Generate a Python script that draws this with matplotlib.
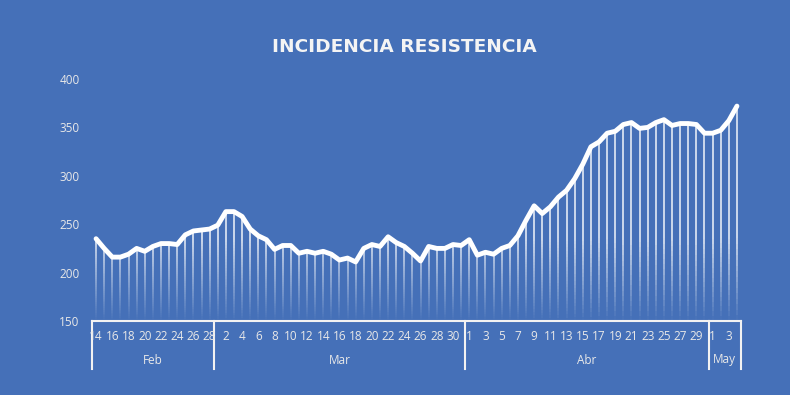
import numpy as np
import pandas as pd
import matplotlib.pyplot as plt
from matplotlib.collections import LineCollection
import matplotlib.transforms as mtransforms

# datos: incidencia diaria 14 feb - 4 may
dates = pd.date_range('2021-02-14', '2021-05-04', freq='D')
month_names = ['Feb', 'Mar', 'Abr', 'May']
values = [235, 225, 216, 216, 219, 225, 222, 227, 230, 230,
          229, 239, 243, 244, 245, 249, 263, 263, 258, 245,
          238, 234, 224, 228, 228, 220, 222, 220, 222, 219,
          213, 215, 211, 225, 229, 227, 237, 231, 227, 220,
          212, 227, 225, 225, 229, 228, 234, 218, 221, 219,
          225, 228, 238, 254, 269, 261, 268, 278, 285, 297,
          312, 330, 335, 344, 346, 353, 355, 349, 350, 355,
          358, 352, 354, 354, 353, 344, 344, 347, 357, 372]
yticks = [150, 200, 250, 300, 350, 400]

bg = '#4570B8'
txt = '#E8E8E8'
W, H = 790, 395

fig = plt.figure(figsize=(W / 100, H / 100), dpi=100, facecolor=bg)
ax = fig.add_axes([92 / W, (H - 321) / H, (741 - 92) / W, (321 - 79) / H])
ax.set_facecolor(bg)

x = np.arange(len(values))
ax.set_xlim(-0.5, len(values) - 0.5)
ax.set_ylim(150, 400)

# lineas verticales con degradado
segs, cols = [], []
for xi, v in zip(x, values):
    ys = np.linspace(150, v, 40)
    for y0, y1 in zip(ys[:-1], ys[1:]):
        a = min(max(((y0 + y1) / 2 - 150) / 85, 0), 1) * 0.85
        segs.append([(xi, y0), (xi, y1)])
        cols.append((1, 1, 1, a))
ax.add_collection(LineCollection(segs, colors=cols, linewidths=1.2,
                                 capstyle='butt'))

ax.plot(x, values, color='white', lw=3.5, solid_joinstyle='round',
        solid_capstyle='round', zorder=3)

for s in ['top', 'right', 'left']:
    ax.spines[s].set_visible(False)
ax.spines['bottom'].set_color('#F2F2F2')
ax.spines['bottom'].set_linewidth(1.5)

ax.set_yticks(yticks)
ax.set_yticklabels([str(t) for t in yticks], color=txt, fontsize=8.5, family='Open Sans')
ax.tick_params(axis='y', length=0, pad=9)
ax.set_xticks([])

trans = mtransforms.blended_transform_factory(ax.transData, ax.transAxes)
label_y = -(337 - 321) / 242
month_y = -(360 - 321) / 242
sep_y = -(369 - 321) / 242

# etiquetas de dias (cada dos)
for i, d in enumerate(dates):
    if i % 2 == 0:
        ax.text(i, label_y, str(d.day), transform=trans, ha='center', va='center',
                color=txt, fontsize=8.5, family='Open Sans')

# grupos de meses
month_idx = dates.month.values
bounds = [-0.5]
for m in np.unique(month_idx):
    idx = np.where(month_idx == m)[0]
    start, end = idx[0] - 0.5, idx[-1] + 0.5
    bounds.append(end)
    ax.text((start + end) / 2, month_y, month_names[m - 2], transform=trans,
            ha='center', va='center', color=txt, fontsize=8.5, family='Open Sans')
for b in bounds:
    ax.plot([b, b], [0, sep_y], transform=trans, color='#F2F2F2', lw=1.5,
            clip_on=False)

fig.text(404 / W, 1 - 47 / H, 'INCIDENCIA RESISTENCIA', ha='center', va='center',
         color='#F4F4F4', fontsize=13.3, fontweight='bold', family='DejaVu Sans')

fig.savefig('out.png', dpi=100, facecolor=bg)
